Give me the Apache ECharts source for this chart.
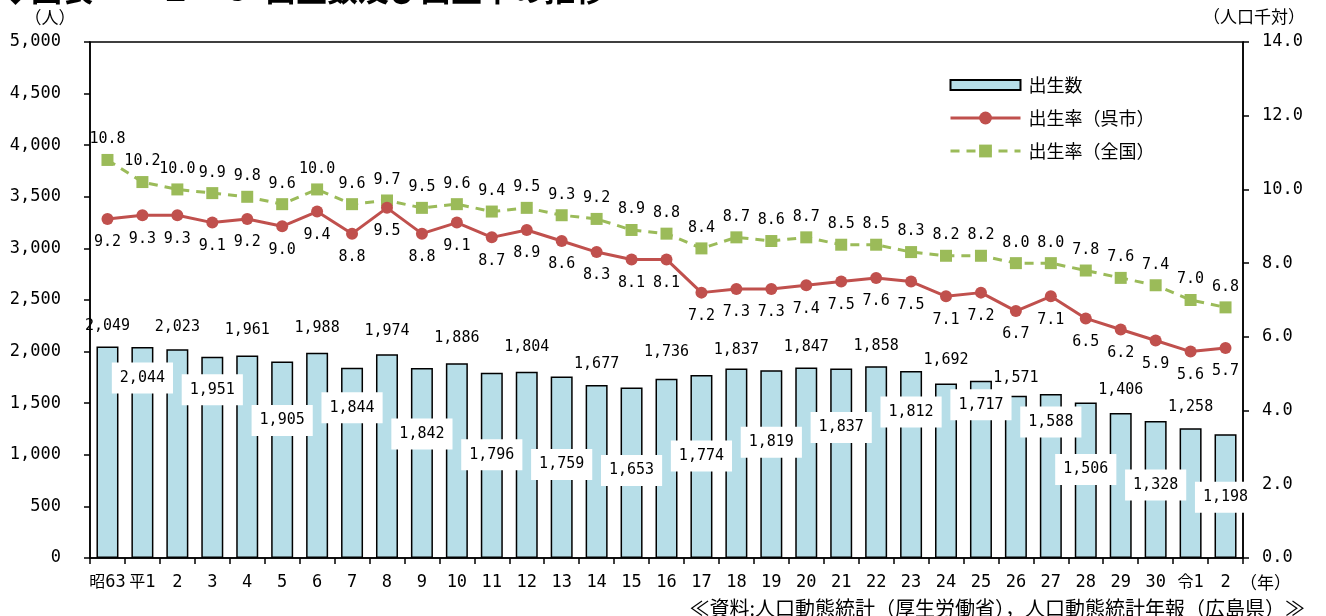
<!DOCTYPE html>
<html><head><meta charset="utf-8">
<script src="https://cdn.jsdelivr.net/npm/echarts@6/dist/echarts.min.js"></script>
<style>html,body{margin:0;padding:0;background:#fff}#c{width:1326px;height:616px}</style>
</head><body><div id="c"></div>
<script>
// ---- data ----
const categories = ['昭63','平1','2','3','4','5','6','7','8','9','10','11','12','13','14','15','16','17','18','19','20','21','22','23','24','25','26','27','28','29','30','令1','2'];
const births = [2049,2044,2023,1951,1961,1905,1988,1844,1974,1842,1886,1796,1804,1759,1677,1653,1736,1774,1837,1819,1847,1837,1858,1812,1692,1717,1571,1588,1506,1406,1328,1258,1198];
const rateKure = [9.2,9.3,9.3,9.1,9.2,9.0,9.4,8.8,9.5,8.8,9.1,8.7,8.9,8.6,8.3,8.1,8.1,7.2,7.3,7.3,7.4,7.5,7.6,7.5,7.1,7.2,6.7,7.1,6.5,6.2,5.9,5.6,5.7];
const rateNational = [10.8,10.2,10.0,9.9,9.8,9.6,10.0,9.6,9.7,9.5,9.6,9.4,9.5,9.3,9.2,8.9,8.8,8.4,8.7,8.6,8.7,8.5,8.5,8.3,8.2,8.2,8.0,8.0,7.8,7.6,7.4,7.0,6.8];
const seriesNames = ['出生数','出生率（呉市）','出生率（全国）'];
const leftAxis = {min:0, max:5000, interval:500};
const rightAxis = {min:0, max:14, interval:2};

// ---- label layout (offset of bar label centre from bar top, px) ----
const barLabelDy = [-20,31,-22,33,-26,59,-25,40,-23,66,-25,82,-25,88,-21,83,-27,81,-18,72,-20,59,-20,41,-23,24,-18,28,67,-23,64,-21,63];

const NUM = "'DejaVu Sans Mono', monospace";
const CJK = "'Noto Sans CJK JP', sans-serif";

const chart = echarts.init(document.getElementById('c'), null, {renderer:'canvas'});
const option = {
  backgroundColor:'#fff',
  animation:false,
  grid:{left:90, right:83, top:42, bottom:58, show:true, borderColor:'#000', borderWidth:1.5, backgroundColor:'transparent'},
  legend:{
    orient:'vertical', left:944, top:71, itemWidth:70, itemHeight:16, itemGap:15,
    textStyle:{fontFamily:CJK, fontSize:18, color:'#000', padding:[0,0,0,3]},
    data:[
      {name:seriesNames[0], icon:'path://M0,0L0,0M0,3L70,3L70,13L0,13ZM70,16L70,16'},
      {name:seriesNames[1], lineStyle:{width:3}},
      {name:seriesNames[2], lineStyle:{width:3}}
    ]
  },
  xAxis:{
    type:'category', data:categories, boundaryGap:true,
    axisLine:{lineStyle:{color:'#000', width:1.5}},
    axisTick:{show:true, alignWithLabel:false, length:6, lineStyle:{color:'#000', width:1.5}},
    axisLabel:{
      interval:0, margin:15, color:'#000',
      formatter:v => /^[昭平令]/.test(v) ? '{c|'+v[0]+'}{n|'+v.slice(1)+'}' : '{n|'+v+'}',
      rich:{
        c:{fontFamily:CJK, fontSize:16, lineHeight:20, color:'#000', padding:[0,0,4,0]},
        n:{fontFamily:NUM, fontSize:17, lineHeight:20, color:'#000'}
      }
    },
    splitLine:{show:false}
  },
  yAxis:[
    {type:'value', min:leftAxis.min, max:leftAxis.max, interval:leftAxis.interval,
     axisLine:{show:true, lineStyle:{color:'#000', width:1.5}},
     axisTick:{show:true, length:6, lineStyle:{color:'#000', width:1.5}},
     axisLabel:{margin:29, color:'#000', fontFamily:NUM, fontSize:17, formatter:v => v.toLocaleString('en-US')},
     splitLine:{show:false}},
    {type:'value', min:rightAxis.min, max:rightAxis.max, interval:rightAxis.interval, position:'right',
     axisLine:{show:true, lineStyle:{color:'#000', width:1.5}},
     axisTick:{show:true, length:6, lineStyle:{color:'#000', width:1.5}},
     axisLabel:{margin:19, color:'#000', fontFamily:NUM, fontSize:17, formatter:v => v.toFixed(1)},
     splitLine:{show:false}}
  ],
  series:[
    {
      name:seriesNames[0], type:'bar', yAxisIndex:0, barWidth:22, z:2,
      itemStyle:{color:'#B7DEE8', borderColor:'#000', borderWidth:1.5},
      data:births.map((v,i)=>{
        const dy = barLabelDy[i], inside = dy > 0;
        return {value:v, label:{
          show:true, position:['50%', dy], align:'center', verticalAlign:'middle',
          backgroundColor: inside ? '#fff' : 'transparent', padding: inside ? [8,8] : 0
        }};
      }),
      label:{show:true, color:'#000', fontFamily:NUM, fontSize:15, formatter:p => p.value.toLocaleString('en-US')}
    },
    {
      name:seriesNames[1], type:'line', yAxisIndex:1, z:4,
      data:rateKure, symbol:'circle', symbolSize:12,
      lineStyle:{color:'#C0504D', width:3}, itemStyle:{color:'#C0504D'},
      label:{show:true, position:'bottom', distance:10, color:'#000', fontFamily:NUM, fontSize:15, formatter:p => p.value.toFixed(1)}
    },
    {
      name:seriesNames[2], type:'line', yAxisIndex:1, z:3,
      data:rateNational, symbol:'rect', symbolSize:12,
      lineStyle:{color:'#9BBB59', width:3, type:[9,7]}, itemStyle:{color:'#9BBB59'},
      label:{show:true, position:'top', distance:7, color:'#000', fontFamily:NUM, fontSize:15, formatter:p => p.value.toFixed(1)}
    }
  ],
  graphic:[
    {type:'text', left:0, top:-26, style:{text:'◆図表', font:'bold 31px '+CJK, fill:'#000'}},
    {type:'text', left:160, top:-26, style:{text:'１－３', font:'bold 31px '+CJK, fill:'#000'}},
    {type:'text', left:265, top:-26, style:{text:'出生数及び出生率の推移', font:'bold 31px '+CJK, fill:'#000'}},
    {type:'text', x:50, y:18, style:{text:'（人）', font:'17px '+CJK, fill:'#000', align:'center', verticalAlign:'middle'}},
    {type:'text', x:1254, y:17, style:{text:'（人口千対）', font:'17px '+CJK, fill:'#000', align:'center', verticalAlign:'middle'}},
    {type:'text', x:1240, y:583, style:{text:'（年）', font:'17px '+CJK, fill:'#000', align:'left', verticalAlign:'middle'}},
    {type:'text', x:1305, y:608, style:{text:'≪資料:人口動態統計（厚生労働省），人口動態統計年報（広島県）≫', font:'20px '+CJK, fill:'#000', align:'right', verticalAlign:'middle'}}
  ]
};
chart.setOption(option);
</script></body></html>
